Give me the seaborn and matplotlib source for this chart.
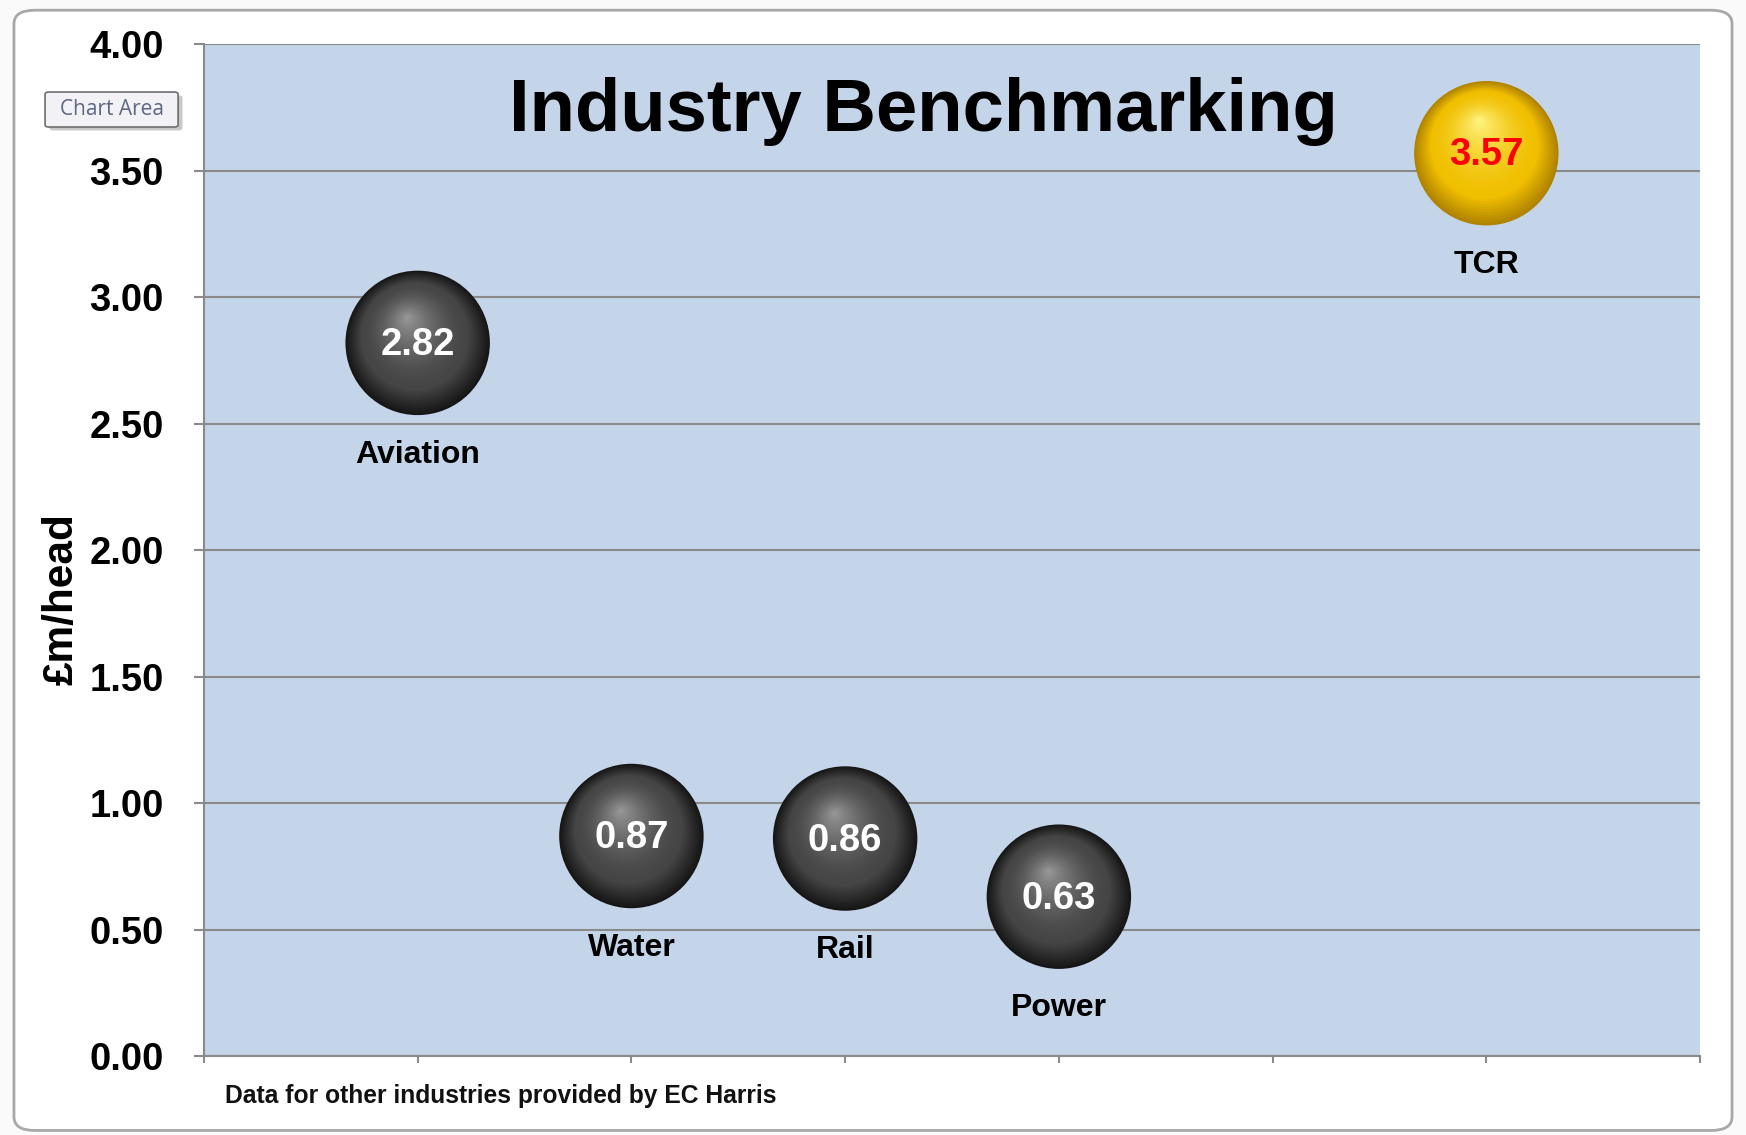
import matplotlib
matplotlib.use("Agg")
import matplotlib.pyplot as plt
import matplotlib.transforms as mtransforms
from matplotlib.patches import FancyBboxPatch
from matplotlib.colors import to_rgb
import numpy as np
import pandas as pd
import seaborn as sns

# Data
industries = ["Aviation", "Water", "Rail", "Power", "TCR"]
positions = [1, 2, 3, 4, 6]
cost_per_head = [2.82, 0.87, 0.86, 0.63, 3.57]
value_labels = ["2.82", "0.87", "0.86", "0.63", "3.57"]
y_ticks = [0.0, 0.5, 1.0, 1.5, 2.0, 2.5, 3.0, 3.5, 4.0]

df = pd.DataFrame({"industry": industries, "pos": positions, "cost": cost_per_head,
                   "label": value_labels})

sns.set_style("white")
plt.rcParams['font.family'] = ['Liberation Sans', 'DejaVu Sans']

fig = plt.figure(figsize=(17.46, 11.35), dpi=100, facecolor="#fafafa")

# outer chart-area frame
fig.patches.append(FancyBboxPatch((0.008, 0.004), 0.984, 0.987,
                                  boxstyle="round,pad=0,rounding_size=0.012",
                                  transform=fig.transFigure, fc="white",
                                  ec="#a8a8a8", lw=2, zorder=-10))

ax = fig.add_axes([0.1168, 0.0696, 0.8569, 0.8912])
ax.set_facecolor("#c4d5ea")

# shaded balls: base scatter + stacked highlight layers
R_pt = 52.0
base_size = (2 * R_pt) ** 2
styles = {
    "dark": dict(edge="#161616", body="#454545", hi="#9a9a9a", off=(-0.15, 0.36)),
    "gold": dict(edge="#b08300", body="#f0bf00", hi="#fff585", off=(-0.1, 0.46)),
}


def mix(c1, c2, t):
    a, b = np.array(to_rgb(c1)), np.array(to_rgb(c2))
    return tuple(a + (b - a) * t)


df["style"] = np.where(df["industry"] == "TCR", "gold", "dark")
for style, sub in df.groupby("style"):
    st = styles[style]
    sns.scatterplot(data=sub, x="pos", y="cost", s=base_size, color=st["edge"],
                    edgecolor="none", ax=ax, zorder=3, legend=False)
    n = 40
    for k in range(1, n):
        t = k / n
        r = R_pt * (1 - t)
        if t < 0.25:
            col = mix(st["edge"], st["body"], t / 0.25)
        else:
            col = mix(st["body"], st["hi"], ((t - 0.25) / 0.75) ** 1.6)
        dx = st["off"][0] * R_pt * t
        dy = st["off"][1] * R_pt * t
        trans = mtransforms.offset_copy(ax.transData, fig=fig, x=dx, y=dy, units="points")
        ax.scatter(sub["pos"], sub["cost"], s=(2 * r) ** 2, color=col,
                   edgecolor="none", transform=trans, zorder=3 + t)

ax.set_xlim(0, 7)
ax.set_ylim(0, 4)
ax.set_yticks(y_ticks)
ax.set_yticklabels([f"{v:.2f}" for v in y_ticks], fontsize=27.5, fontweight="bold",
                   color="black")
ax.set_xticks(range(0, 8))
ax.set_xticklabels([])
ax.yaxis.grid(True, color="#8a8a8a", lw=1.5)
ax.set_axisbelow(True)
ax.tick_params(axis="y", length=7, width=1.5, color="#8a8a8a", pad=22, left=True)
ax.tick_params(axis="x", length=5, width=1.5, color="#8a8a8a", bottom=True)
for side in ["top", "right"]:
    ax.spines[side].set_visible(False)
for side in ["left", "bottom"]:
    ax.spines[side].set_color("#8a8a8a")
    ax.spines[side].set_linewidth(1.5)

ax.set_xlabel("")
ax.set_ylabel("£m/head", fontsize=30.5, fontweight="bold", color="black")
ax.yaxis.set_label_coords(-0.082, 0.452)

for _, row in df.iterrows():
    txt_color = "#ff0000" if row["industry"] == "TCR" else "white"
    ax.annotate(row["label"], (row["pos"], row["cost"]), xytext=(0, -1.5),
                textcoords="offset points", ha="center", va="center",
                fontsize=27.5, fontweight="bold", color=txt_color, zorder=6)
    ax.annotate(row["industry"], (row["pos"], row["cost"]), xytext=(0, -80.5),
                textcoords="offset points", ha="center", va="center",
                fontsize=23, fontweight="bold", color="black", zorder=6)

ax.text(0.481, 0.934, "Industry Benchmarking", transform=ax.transAxes,
        ha="center", va="center", fontsize=53.5, fontweight="bold", color="black")

fig.text(0.129, 0.0344, "Data for other industries provided by EC Harris",
         ha="left", va="center", fontsize=17.7, fontweight="bold",
         color="#111111")

# "Chart Area" tooltip
fig.patches.append(FancyBboxPatch((0.0283, 0.8851), 0.0762, 0.0308,
                                  boxstyle="round,pad=0,rounding_size=0.002",
                                  transform=fig.transFigure, fc="#c8c8c8",
                                  ec="none", zorder=5))
fig.patches.append(FancyBboxPatch((0.0258, 0.8881), 0.0762, 0.0308,
                                  boxstyle="round,pad=0,rounding_size=0.002",
                                  transform=fig.transFigure, fc="#f2f2f6",
                                  ec="#6e6e6e", lw=1.2, zorder=6))
fig.text(0.0639, 0.9035, "Chart Area", ha="center", va="center", fontsize=15,
         family=["Open Sans", "DejaVu Sans"], color="#5c6680", zorder=7)

fig.savefig("out.png", dpi=100, facecolor=fig.get_facecolor())
